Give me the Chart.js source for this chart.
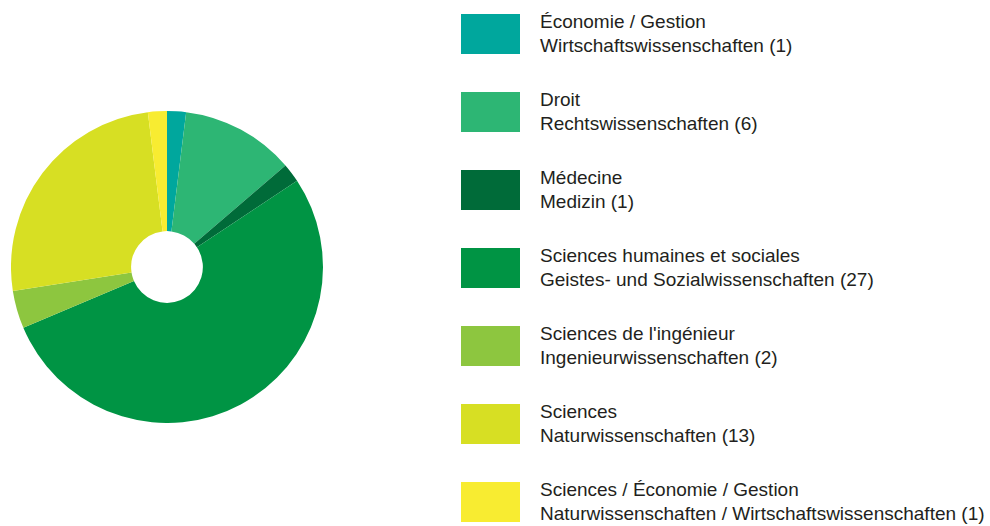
<!DOCTYPE html>
<html>
<head>
<meta charset="utf-8">
<script src="https://cdn.jsdelivr.net/npm/chart.js@4"></script>
<style>
    body { margin: 0; background: #fff; width: 990px; height: 526px; overflow: hidden; position: relative; font-family: "Liberation Sans", Arial, sans-serif; }
    #pieBox { position: absolute; left: 11px; top: 111px; width: 312px; height: 312px; }
    #legend { position: absolute; left: 0; top: 0; }
    .item { position: absolute; left: 461px; }
    .swatch { position: absolute; left: 0; top: 0; width: 59px; height: 40px; }
    .label { position: absolute; left: 79px; top: -4px; white-space: nowrap; font-size: 19px; line-height: 24px; color: #231f20; }
</style>
</head>
<body>
<div id="pieBox"><canvas id="pieChart"></canvas></div>
<div id="legend"></div>
<script>
const labelsFr = ["Économie / Gestion", "Droit", "Médecine", "Sciences humaines et sociales", "Sciences de l'ingénieur", "Sciences", "Sciences / Économie / Gestion"];
const labelsDe = ["Wirtschaftswissenschaften", "Rechtswissenschaften", "Medizin", "Geistes- und Sozialwissenschaften", "Ingenieurwissenschaften", "Naturwissenschaften", "Naturwissenschaften / Wirtschaftswissenschaften"];
const counts = [1, 6, 1, 27, 2, 13, 1];
const colors = ["#00a79d", "#2db674", "#006b39", "#009444", "#8dc63f", "#d7df23", "#f8ec31"];

// legend (html so the two lines wrap properly)
const legendEl = document.getElementById("legend");
legendEl.innerHTML = counts.map((c, i) => `
    <div class="item" style="top:${14 + i * 78}px">
        <div class="swatch" style="background:${colors[i]}"></div>
        <div class="label">${labelsFr[i]}<br>${labelsDe[i]} (${c})</div>
    </div>`).join('');

const ctx = document.getElementById("pieChart").getContext("2d");
new Chart(ctx, {
    type: "doughnut",
    data: {
        labels: labelsFr,
        datasets: [{
            data: counts,
            backgroundColor: colors,
            borderWidth: 0
        }]
    },
    options: {
        responsive: true,
        maintainAspectRatio: false,
        animation: false,
        cutout: "23%",
        layout: { padding: 0 },
        plugins: {
            legend: { display: false },
            tooltip: { enabled: false }
        }
    }
});
</script>
</body>
</html>
